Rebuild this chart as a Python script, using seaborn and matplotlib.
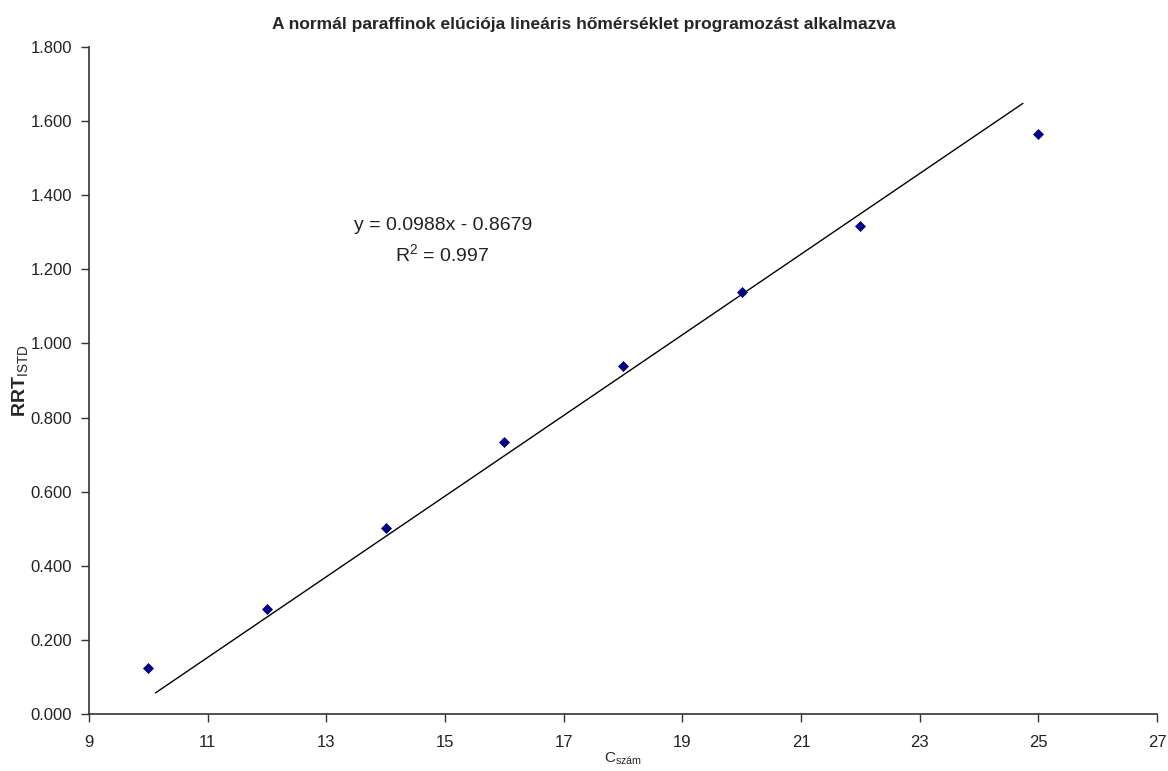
import matplotlib
matplotlib.use("Agg")
import matplotlib.pyplot as plt
import seaborn as sns
import pandas as pd
from matplotlib.ticker import FormatStrFormatter, MultipleLocator

# Data
c_number = [10, 12, 14, 16, 18, 20, 22, 25]
rrt_istd = [0.124, 0.283, 0.502, 0.733, 0.940, 1.139, 1.317, 1.565]
trend_x = [10.12, 24.74]
trend_y = [0.057, 1.648]
x_ticks = [9, 11, 13, 15, 17, 19, 21, 23, 25, 27]
title = "A normál paraffinok elúciója lineáris hőmérséklet programozást alkalmazva"
equation = "y = 0.0988x - 0.8679\nR$^2$ = 0.997"

sns.set_theme(style="white")
plt.rcParams['font.family'] = ['Liberation Sans', 'DejaVu Sans']
plt.rcParams['mathtext.fontset'] = 'custom'
plt.rcParams['mathtext.rm'] = 'Liberation Sans'
plt.rcParams['mathtext.bf'] = 'Liberation Sans:bold'

fig = plt.figure(figsize=(11.68, 7.71), dpi=100)
ax = fig.add_axes([0.0762, 0.0739, 0.9144, 0.8651])

df = pd.DataFrame({"x": c_number, "y": rrt_istd})
tdf = pd.DataFrame({"x": trend_x, "y": trend_y})
sns.lineplot(data=tdf, x="x", y="y", ax=ax, color="black", linewidth=1.0)
sns.scatterplot(data=df, x="x", y="y", ax=ax, marker="D", color="#000080",
                s=26, edgecolor="#000080", linewidth=0.5, zorder=3)

ax.set_xlim(9, 27)
ax.set_ylim(0, 1.8)
ax.set_xticks(x_ticks)
ax.set_xticklabels([str(t) for t in x_ticks])
ax.yaxis.set_major_locator(MultipleLocator(0.2))
ax.yaxis.set_major_formatter(FormatStrFormatter("%.3f"))

for s in ["top", "right"]:
    ax.spines[s].set_visible(False)
for s in ["left", "bottom"]:
    ax.spines[s].set_color("#333333")
    ax.spines[s].set_linewidth(1.2)

ax.tick_params(axis="both", which="major", direction="out", length=6, width=1,
               color="#333333", labelsize=12, labelcolor="#222222", bottom=True, left=True)
ax.tick_params(axis="x", pad=9)
ax.tick_params(axis="y", pad=6)

ax.set_xlabel("C$_{\\mathrm{szám}}$", fontsize=11, labelpad=0)
ax.set_ylabel("$\\mathbf{RRT}_{\\mathrm{ISTD}}$", fontsize=14, labelpad=0)

fig.text(0.5, 0.968, title, ha="center", va="center", fontsize=12.5,
         fontweight="bold", family=['Liberation Sans Narrow', 'Liberation Sans', 'DejaVu Sans'])

ax.text(14.96, 1.275, equation, ha="center", va="center", fontsize=14,
        color="#222222", linespacing=1.55)

fig.savefig("out.png", dpi=100)
